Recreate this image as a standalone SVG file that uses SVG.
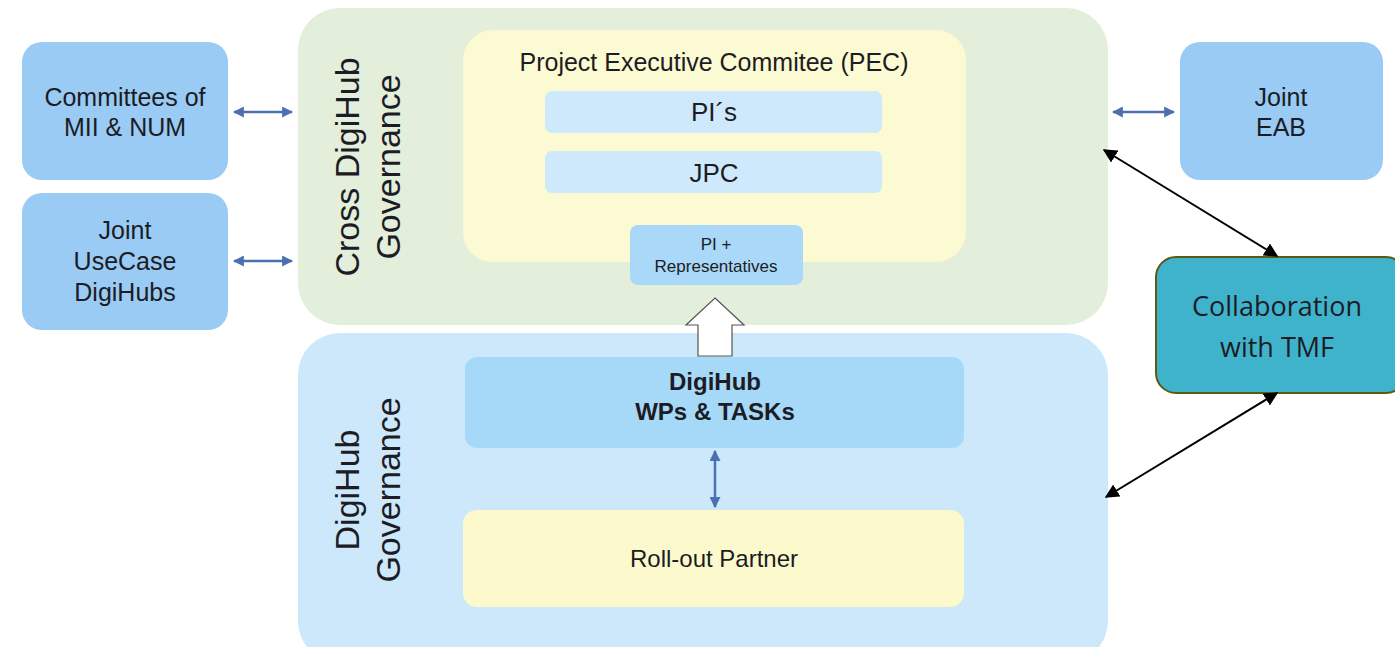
<svg xmlns="http://www.w3.org/2000/svg" width="1395" height="647" viewBox="0 0 1395 647">
<defs>
<style>
text{font-family:"Liberation Sans",Arial,sans-serif;fill:#1c1c24;text-anchor:middle}
.side{fill:#99cbf5}
.t25{font-size:25px}
.vt{font-size:34px}
.blue{stroke:#4a70b0;stroke-width:2.5;fill:none}
.blk{stroke:#000;stroke-width:2;fill:none}
.cal{font-family:"Open Sans","Liberation Sans",sans-serif;font-size:27px}
</style>
<marker id="ba" viewBox="0 0 10 10" refX="9" refY="5" markerWidth="4.4" markerHeight="4.4" orient="auto-start-reverse"><path d="M0,0 L10,5 L0,10 z" fill="#4a70b0"/></marker>
<marker id="ka" viewBox="0 0 10 10" refX="9" refY="5" markerWidth="7" markerHeight="7" orient="auto-start-reverse"><path d="M0,0 L10,5 L0,10 z" fill="#000"/></marker>
</defs>
<rect width="1395" height="647" fill="#fff"/>
<g id="cross-governance">
<rect x="298" y="8" width="810" height="317" rx="42" fill="#e3eedb"/>
<text class="vt" transform="translate(359,167) rotate(-90)">Cross DigiHub</text>
<text class="vt" transform="translate(400,167) rotate(-90)">Governance</text>
</g>
<g id="digihub-governance">
<rect x="298" y="333" width="810" height="330" rx="42" fill="#cce8fa"/>
<text class="vt" transform="translate(359,490) rotate(-90)">DigiHub</text>
<text class="vt" transform="translate(400,490) rotate(-90)">Governance</text>
</g>
<g id="pec">
<rect x="463" y="30" width="503" height="232" rx="30" fill="#fcfad2"/>
<text x="714" y="71" font-size="25">Project Executive Commitee (PEC)</text>
</g>
<g id="pis">
<rect x="545" y="91" width="337" height="42" rx="7" fill="#cde9fb"/>
<text x="714" y="121" font-size="26">PI´s</text>
</g>
<g id="jpc">
<rect x="545" y="151" width="337" height="42" rx="7" fill="#cde9fb"/>
<text x="714" y="182" font-size="26">JPC</text>
</g>
<g id="pi-rep">
<rect x="630" y="225" width="173" height="60" rx="8" fill="#a9d8f8"/>
<text x="716" y="250" font-size="17">PI +</text>
<text x="716" y="272" font-size="17">Representatives</text>
</g>
<g id="wps">
<rect x="465" y="357" width="499" height="91" rx="12" fill="#a6d8f8"/>
<text x="715" y="390" font-size="24" font-weight="bold">DigiHub</text>
<text x="715" y="420" font-size="24" font-weight="bold">WPs &amp; TASKs</text>
</g>
<g id="rollout">
<rect x="463" y="510" width="501" height="97" rx="14" fill="#fcfacc"/>
<text x="714" y="567" font-size="24">Roll-out Partner</text>
</g>
<g id="committees">
<rect class="side" x="22" y="42" width="206" height="138" rx="20"/>
<text x="125" y="106" class="t25">Committees of</text>
<text x="125" y="136" class="t25">MII &amp; NUM</text>
</g>
<g id="usecase">
<rect class="side" x="22" y="193" width="206" height="137" rx="20"/>
<text x="125" y="239" class="t25">Joint</text>
<text x="125" y="270" class="t25">UseCase</text>
<text x="125" y="301" class="t25">DigiHubs</text>
</g>
<g id="eab">
<rect class="side" x="1180" y="42" width="203" height="138" rx="20"/>
<text x="1281" y="106" class="t25">Joint</text>
<text x="1281" y="136" class="t25">EAB</text>
</g>
<g id="tmf">
<rect x="1156" y="257" width="250" height="136" rx="20" fill="#3fb3cc" stroke="#5b5a12" stroke-width="2"/>
<text x="1277" y="316" class="cal">Collaboration</text>
<text x="1277" y="357" class="cal">with TMF</text>
</g>
<g id="connectors">
<line class="blue" x1="234" y1="112" x2="292" y2="112" marker-start="url(#ba)" marker-end="url(#ba)"/>
<line class="blue" x1="234" y1="261" x2="292" y2="261" marker-start="url(#ba)" marker-end="url(#ba)"/>
<line class="blue" x1="1113" y1="112" x2="1174" y2="112" marker-start="url(#ba)" marker-end="url(#ba)"/>
<line class="blue" x1="715" y1="451" x2="715" y2="507" marker-start="url(#ba)" marker-end="url(#ba)"/>
<line class="blk" x1="1104" y1="150" x2="1277" y2="256" marker-start="url(#ka)" marker-end="url(#ka)"/>
<line class="blk" x1="1106" y1="497" x2="1277" y2="393" marker-start="url(#ka)" marker-end="url(#ka)"/>
<path d="M715,298 L744,325 L732,325 L732,356 L698,356 L698,325 L686,325 Z" fill="#fff" stroke="#555" stroke-width="1.2"/>
</g>
</svg>
